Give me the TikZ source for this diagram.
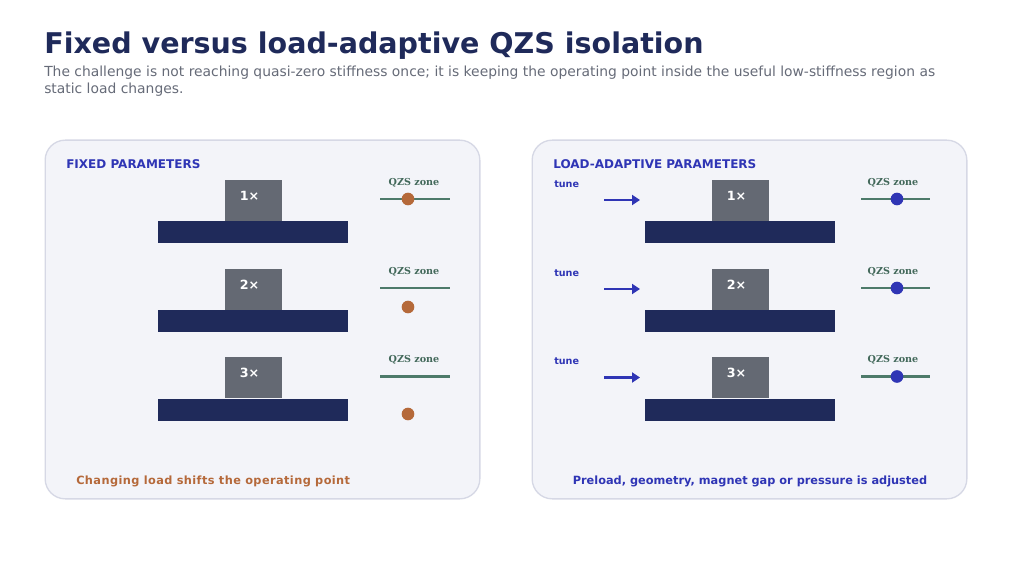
\documentclass[tikz,border=0pt]{standalone}
\usepackage{fontspec}
\setmainfont{DejaVu Sans}
\newfontfamily\zonefont{DejaVu Serif}
\usetikzlibrary{arrows.meta,positioning}
\definecolor{navy}{RGB}{31,42,90}
\definecolor{slate}{RGB}{100,105,115}
\definecolor{ablue}{RGB}{47,53,181}
\definecolor{rust}{RGB}{181,105,58}
\definecolor{sage}{RGB}{77,122,106}
\definecolor{subgray}{RGB}{102,107,120}
\definecolor{panelfill}{RGB}{243,244,249}
\definecolor{paneldraw}{RGB}{214,216,229}
\tikzset{
    panel/.style={
        rectangle, rounded corners=15pt,
        draw=paneldraw, line width=1pt, fill=panelfill,
        minimum width=326pt, minimum height=269pt
    },
    heading/.style={
        anchor=west, text=ablue, inner sep=0pt,
        font=\bfseries\fontsize{9}{10}\selectfont
    },
    mass/.style={
        rectangle, fill=slate,
        minimum width=42.75pt, minimum height=30.75pt, inner sep=0pt
    },
    masstxt/.style={
        text=white, font=\bfseries\fontsize{9.5}{11}\selectfont, inner sep=0pt
    },
    base/.style={
        rectangle, fill=navy,
        minimum width=142.5pt, minimum height=16.5pt, inner sep=0pt
    },
    zonetxt/.style={
        text=sage!85!black, font=\zonefont\bfseries\fontsize{7.2}{8}\selectfont, inner sep=0pt
    },
    zoneline/.style={
        draw=sage, line width=1.6pt
    },
    fixdot/.style={
        circle, fill=rust, minimum size=9.5pt, inner sep=0pt
    },
    adadot/.style={
        circle, fill=ablue, minimum size=9.5pt, inner sep=0pt
    },
    tunetxt/.style={
        anchor=west, text=ablue, inner sep=0pt,
        font=\bfseries\fontsize{7.2}{9}\selectfont
    },
    connector/.style={
        draw=ablue, line width=2pt,
        -{Triangle[length=6pt,width=7.5pt]}
    },
    caption/.style={
        font=\bfseries\fontsize{8.5}{10}\selectfont, inner sep=0pt
    }
}

\begin{document}
\begin{tikzpicture}[x=0.75pt,y=-0.75pt]
    \useasboundingbox[fill=white] (0,0) rectangle (1012,570);

    % title
    \node[anchor=base west, inner sep=0pt, text=navy,
          font=\bfseries\fontsize{21.4}{25}\selectfont] (title) at (44,54)
          {Fixed versus load-adaptive QZS isolation};
    \node[anchor=north west, inner sep=0pt, text=subgray, align=left,
          font=\fontsize{10.4}{12.8}\selectfont] (subtitle) at (44,66)
          {The challenge is not reaching quasi-zero stiffness once; it is keeping the operating point inside the useful low-stiffness region as\\static load changes.};

    % panels
    \node[panel] (fixed) at (262.5,319.5) {};
    \node[panel] (adapt) at (749.5,319.5) {};
    \node[heading] (fixedhd) at (66,164) {FIXED PARAMETERS};
    \node[heading] (adapthd) at (553,164) {LOAD-ADAPTIVE PARAMETERS};

    % fixed: load steps
    \node[base] (fb1) at (253,232) {};
    \node[base] (fb2) at (253,321) {};
    \node[base] (fb3) at (253,409.5) {};
    \node[mass] (fm1) at (253.5,200.5) {};
    \node[mass] (fm2) at (253.5,289.5) {};
    \node[mass] (fm3) at (253.5,377.5) {};
    \node[masstxt] (fm1t) at (249.5,196) {1×};
    \node[masstxt] (fm2t) at (249.5,284.5) {2×};
    \node[masstxt] (fm3t) at (249.5,373) {3×};

    % fixed: operating point vs zone
    \node[zonetxt] (fz1) at (414,183) {QZS zone};
    \node[zonetxt] (fz2) at (414,271.5) {QZS zone};
    \node[zonetxt] (fz3) at (414,360) {QZS zone};
    \coordinate (fz1l) at (380,199);   \coordinate (fz1r) at (450,199);
    \coordinate (fz2l) at (380,288);   \coordinate (fz2r) at (450,288);
    \coordinate (fz3l) at (380,376.5); \coordinate (fz3r) at (450,376.5);
    \draw[zoneline] (fz1l) -- (fz1r);
    \draw[zoneline] (fz2l) -- (fz2r);
    \draw[zoneline] (fz3l) -- (fz3r);
    \node[fixdot] (fd1) at (408,199) {};
    \node[fixdot] (fd2) at (408,307) {};
    \node[fixdot] (fd3) at (408,414) {};

    % adaptive: load steps
    \node[base] (ab1) at (740,232) {};
    \node[base] (ab2) at (740,321) {};
    \node[base] (ab3) at (740,409.5) {};
    \node[mass] (am1) at (740.5,200.5) {};
    \node[mass] (am2) at (740.5,289.5) {};
    \node[mass] (am3) at (740.5,377.5) {};
    \node[masstxt] (am1t) at (736.5,196) {1×};
    \node[masstxt] (am2t) at (736.5,284.5) {2×};
    \node[masstxt] (am3t) at (736.5,373) {3×};

    % adaptive: tuning
    \node[tunetxt] (tune1) at (554,184) {tune};
    \node[tunetxt] (tune2) at (554,273) {tune};
    \node[tunetxt] (tune3) at (554,361.5) {tune};
    \coordinate (tn1s) at (604,200);   \coordinate (tn1e) at (640,200);
    \coordinate (tn2s) at (604,289);   \coordinate (tn2e) at (640,289);
    \coordinate (tn3s) at (604,377.5); \coordinate (tn3e) at (640,377.5);
    \draw[connector] (tn1s) -- (tn1e);
    \draw[connector] (tn2s) -- (tn2e);
    \draw[connector] (tn3s) -- (tn3e);

    % adaptive: operating point stays in zone
    \node[zonetxt] (az1) at (893,183) {QZS zone};
    \node[zonetxt] (az2) at (893,271.5) {QZS zone};
    \node[zonetxt] (az3) at (893,360) {QZS zone};
    \coordinate (az1l) at (861,199);   \coordinate (az1r) at (930,199);
    \coordinate (az2l) at (861,288);   \coordinate (az2r) at (930,288);
    \coordinate (az3l) at (861,376.5); \coordinate (az3r) at (930,376.5);
    \draw[zoneline] (az1l) -- (az1r);
    \draw[zoneline] (az2l) -- (az2r);
    \draw[zoneline] (az3l) -- (az3r);
    \node[adadot] (ad1) at (897,199) {};
    \node[adadot] (ad2) at (897,288) {};
    \node[adadot] (ad3) at (897,376.5) {};

    % captions
    \node[caption, text=rust, anchor=west] (fixcap) at (76,481.5)
          {\addfontfeature{LetterSpace=3.6}Changing load shifts the operating point};
    \node[caption, text=ablue] (adacap) at (750,481.5)
          {Preload, geometry, magnet gap or pressure is adjusted};
\end{tikzpicture}
\end{document}
